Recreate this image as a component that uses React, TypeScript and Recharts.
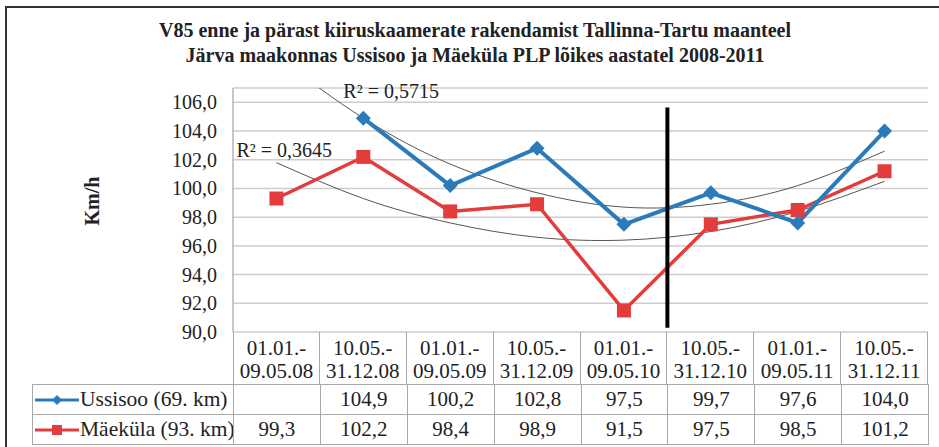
import React from "react";
import { LineChart, Line, XAxis, YAxis, CartesianGrid, ReferenceLine, ReferenceDot } from "recharts";

const periodStart = ["01.01.-", "10.05.-", "01.01.-", "10.05.-", "01.01.-", "10.05.-", "01.01.-", "10.05.-"];
const periodEnd = ["09.05.08", "31.12.08", "09.05.09", "31.12.09", "09.05.10", "31.12.10", "09.05.11", "31.12.11"];
const ussisoo = [null, 104.9, 100.2, 102.8, 97.5, 99.7, 97.6, 104.0];
const maekula = [99.3, 102.2, 98.4, 98.9, 91.5, 97.5, 98.5, 101.2];
// 2nd order trend lines, values at each period
const ussisooTrend = [109.2, 104.9, 101.7, 99.7, 98.7, 98.9, 100.2, 102.6];
const maekulaTrend = [101.8, 99.3, 97.6, 96.6, 96.4, 97.0, 98.4, 100.5];
const yTicks = [90, 92, 94, 96, 98, 100, 102, 104, 106];

const SERIF = "Liberation Serif, Times New Roman, serif";
const BLUE = "#2b7bba";
const RED = "#e23c3c";
const GRID = "#cdcdcd";

const rows = periodEnd.map((_, i) => ({
  x: i + 1,
  ussisoo: ussisoo[i],
  maekula: maekula[i],
  ussisooTrend: ussisooTrend[i],
  maekulaTrend: maekulaTrend[i],
}));

const fmt = (v: number | null) => (v == null ? "" : v.toFixed(1).replace(".", ","));

const Diamond = (props: any) => {
  const { cx, cy, index, value } = props;
  if (cx == null || cy == null || value == null) return <g key={`d${index}`} />;
  const r = 7.5;
  return (
    <polygon key={`d${index}`} points={`${cx},${cy - r} ${cx + r},${cy} ${cx},${cy + r} ${cx - r},${cy}`} fill={BLUE} />
  );
};

const Square = (props: any) => {
  const { cx, cy, index, value } = props;
  if (cx == null || cy == null || value == null) return <g key={`s${index}`} />;
  const s = 14;
  return <rect key={`s${index}`} x={cx - s / 2} y={cy - s / 2} width={s} height={s} fill={RED} />;
};

const YTick = (props: any) => {
  const { x, y, payload } = props;
  return (
    <text x={x} y={y} dy="0.35em" textAnchor="end" fontFamily={SERIF} fontSize={20} fill="#222">
      {fmt(Number(payload.value))}
    </text>
  );
};

// plot area spans x 233..928
const PLOT_LEFT = 233;
const PLOT_RIGHT = 928;
const COL_W = (PLOT_RIGHT - PLOT_LEFT) / 8;
const TABLE_TOP = 332;
const HEAD_H = 53;
const ROW_H = 30;
const LEG_LEFT = 32;
const LINE = "1px solid #a9a9a9";

function LegendKey({ kind }: { kind: "diamond" | "square" }) {
  const color = kind === "diamond" ? BLUE : RED;
  return (
    <svg width={46} height={16} style={{ display: "block", flex: "none" }}>
      <line x1={1} y1={8} x2={45} y2={8} stroke={color} strokeWidth={3} />
      {kind === "diamond" ? (
        <polygon points="23,3 28,8 23,13 18,8" fill={color} />
      ) : (
        <rect x={18} y={3} width={10} height={10} fill={color} />
      )}
    </svg>
  );
}

function DataTable() {
  const series = [
    { name: "Ussisoo (69. km)", values: ussisoo, kind: "diamond" as const },
    { name: "Mäeküla (93. km)", values: maekula, kind: "square" as const },
  ];
  const cells: React.ReactNode[] = [];
  periodEnd.forEach((end, i) => {
    cells.push(
      <div
        key={`h${i}`}
        style={{
          position: "absolute",
          left: PLOT_LEFT + i * COL_W,
          top: TABLE_TOP,
          width: COL_W,
          height: HEAD_H,
          borderRight: LINE,
          borderLeft: i === 0 ? LINE : undefined,
          borderBottom: LINE,
          boxSizing: "border-box",
          display: "flex",
          flexDirection: "column",
          alignItems: "center",
          justifyContent: "center",
          lineHeight: "23px",
          paddingTop: 3,
        }}
      >
        <span>{periodStart[i]}</span>
        <span>{end}</span>
      </div>
    );
  });
  series.forEach((s, r) => {
    const top = TABLE_TOP + HEAD_H + r * ROW_H - 1;
    cells.push(
      <div
        key={`l${r}`}
        style={{
          position: "absolute",
          left: LEG_LEFT,
          top,
          width: PLOT_LEFT - LEG_LEFT + 1,
          height: ROW_H + 1,
          border: LINE,
          boxSizing: "border-box",
          display: "flex",
          alignItems: "center",
          paddingLeft: 1,
          whiteSpace: "nowrap",
          fontSize: 21.5,
        }}
      >
        <LegendKey kind={s.kind} />
        <span>{s.name}</span>
      </div>
    );
    s.values.forEach((v, i) => {
      cells.push(
        <div
          key={`c${r}-${i}`}
          style={{
            position: "absolute",
            left: PLOT_LEFT + i * COL_W,
            top,
            width: COL_W + 1,
            height: ROW_H + 1,
            border: LINE,
            boxSizing: "border-box",
            display: "flex",
            alignItems: "center",
            justifyContent: "center",
          }}
        >
          {fmt(v)}
        </div>
      );
    });
  });
  return <>{cells}</>;
}

export default function App() {
  return (
    <div
      style={{
        position: "absolute",
        left: 0,
        top: 0,
        width: 939,
        height: 447,
        overflow: "hidden",
        background: "#fff",
        fontFamily: SERIF,
        fontSize: 21,
        color: "#222",
      }}
    >
      <div
        style={{
          position: "absolute",
          left: 5,
          top: 6,
          width: 960,
          height: 460,
          border: "2px solid #333",
          boxSizing: "border-box",
        }}
      />
      <div
        style={{
          position: "absolute",
          left: 5,
          top: 18,
          width: 940,
          textAlign: "center",
          fontWeight: "bold",
          fontSize: 20,
          lineHeight: "25px",
        }}
      >
        <div>V85 enne ja pärast kiiruskaamerate rakendamist Tallinna-Tartu maanteel</div>
        <div>Järva maakonnas Ussisoo ja Mäeküla PLP lõikes aastatel 2008-2011</div>
      </div>
      <div
        style={{
          position: "absolute",
          left: 92,
          top: 201,
          transform: "translate(-50%, -50%) rotate(-90deg)",
          fontWeight: "bold",
          fontSize: 20,
          whiteSpace: "nowrap",
        }}
      >
        Km/h
      </div>
      <div style={{ position: "absolute", left: 0, top: 0 }}>
        <LineChart
          width={939}
          height={350}
          data={rows}
          margin={{ top: 88, right: 11, bottom: 18, left: 0 }}
          style={{ fontFamily: SERIF }}
        >
          <CartesianGrid vertical={false} stroke={GRID} strokeWidth={1.5} />
          <XAxis type="number" dataKey="x" domain={[0.5, 8.5]} hide />
          <YAxis
            width={233}
            domain={[90, 107]}
            ticks={yTicks}
            interval={0}
            allowDataOverflow
            tick={<YTick />}
            tickLine={false}
            tickSize={0}
            tickMargin={16}
            axisLine={{ stroke: "#b5b5b5", strokeWidth: 1.5 }}
          />
          <Line
            type="natural"
            dataKey="ussisooTrend"
            stroke="#555"
            strokeWidth={1}
            dot={false}
            activeDot={false}
            isAnimationActive={false}
          />
          <Line
            type="natural"
            dataKey="maekulaTrend"
            stroke="#555"
            strokeWidth={1}
            dot={false}
            activeDot={false}
            isAnimationActive={false}
          />
          <Line
            type="linear"
            dataKey="maekula"
            stroke={RED}
            strokeWidth={3.5}
            dot={Square}
            activeDot={false}
            isAnimationActive={false}
          />
          <Line
            type="linear"
            dataKey="ussisoo"
            stroke={BLUE}
            strokeWidth={4}
            dot={Diamond}
            activeDot={false}
            isAnimationActive={false}
          />
          <ReferenceLine
            segment={[
              { x: 5.5, y: 105.65 },
              { x: 5.5, y: 90.3 },
            ]}
            stroke="#000"
            strokeWidth={4}
          />
          <ReferenceDot
            x={2.32}
            y={106.8}
            r={0}
            fill="none"
            stroke="none"
            label={{ value: "R² = 0,5715", position: "center", fontSize: 20, fill: "#222", fontFamily: SERIF }}
          />
          <ReferenceDot
            x={1.09}
            y={102.72}
            r={0}
            fill="none"
            stroke="none"
            label={{ value: "R² = 0,3645", position: "center", fontSize: 20, fill: "#222", fontFamily: SERIF }}
          />
        </LineChart>
      </div>
      <DataTable />
    </div>
  );
}
